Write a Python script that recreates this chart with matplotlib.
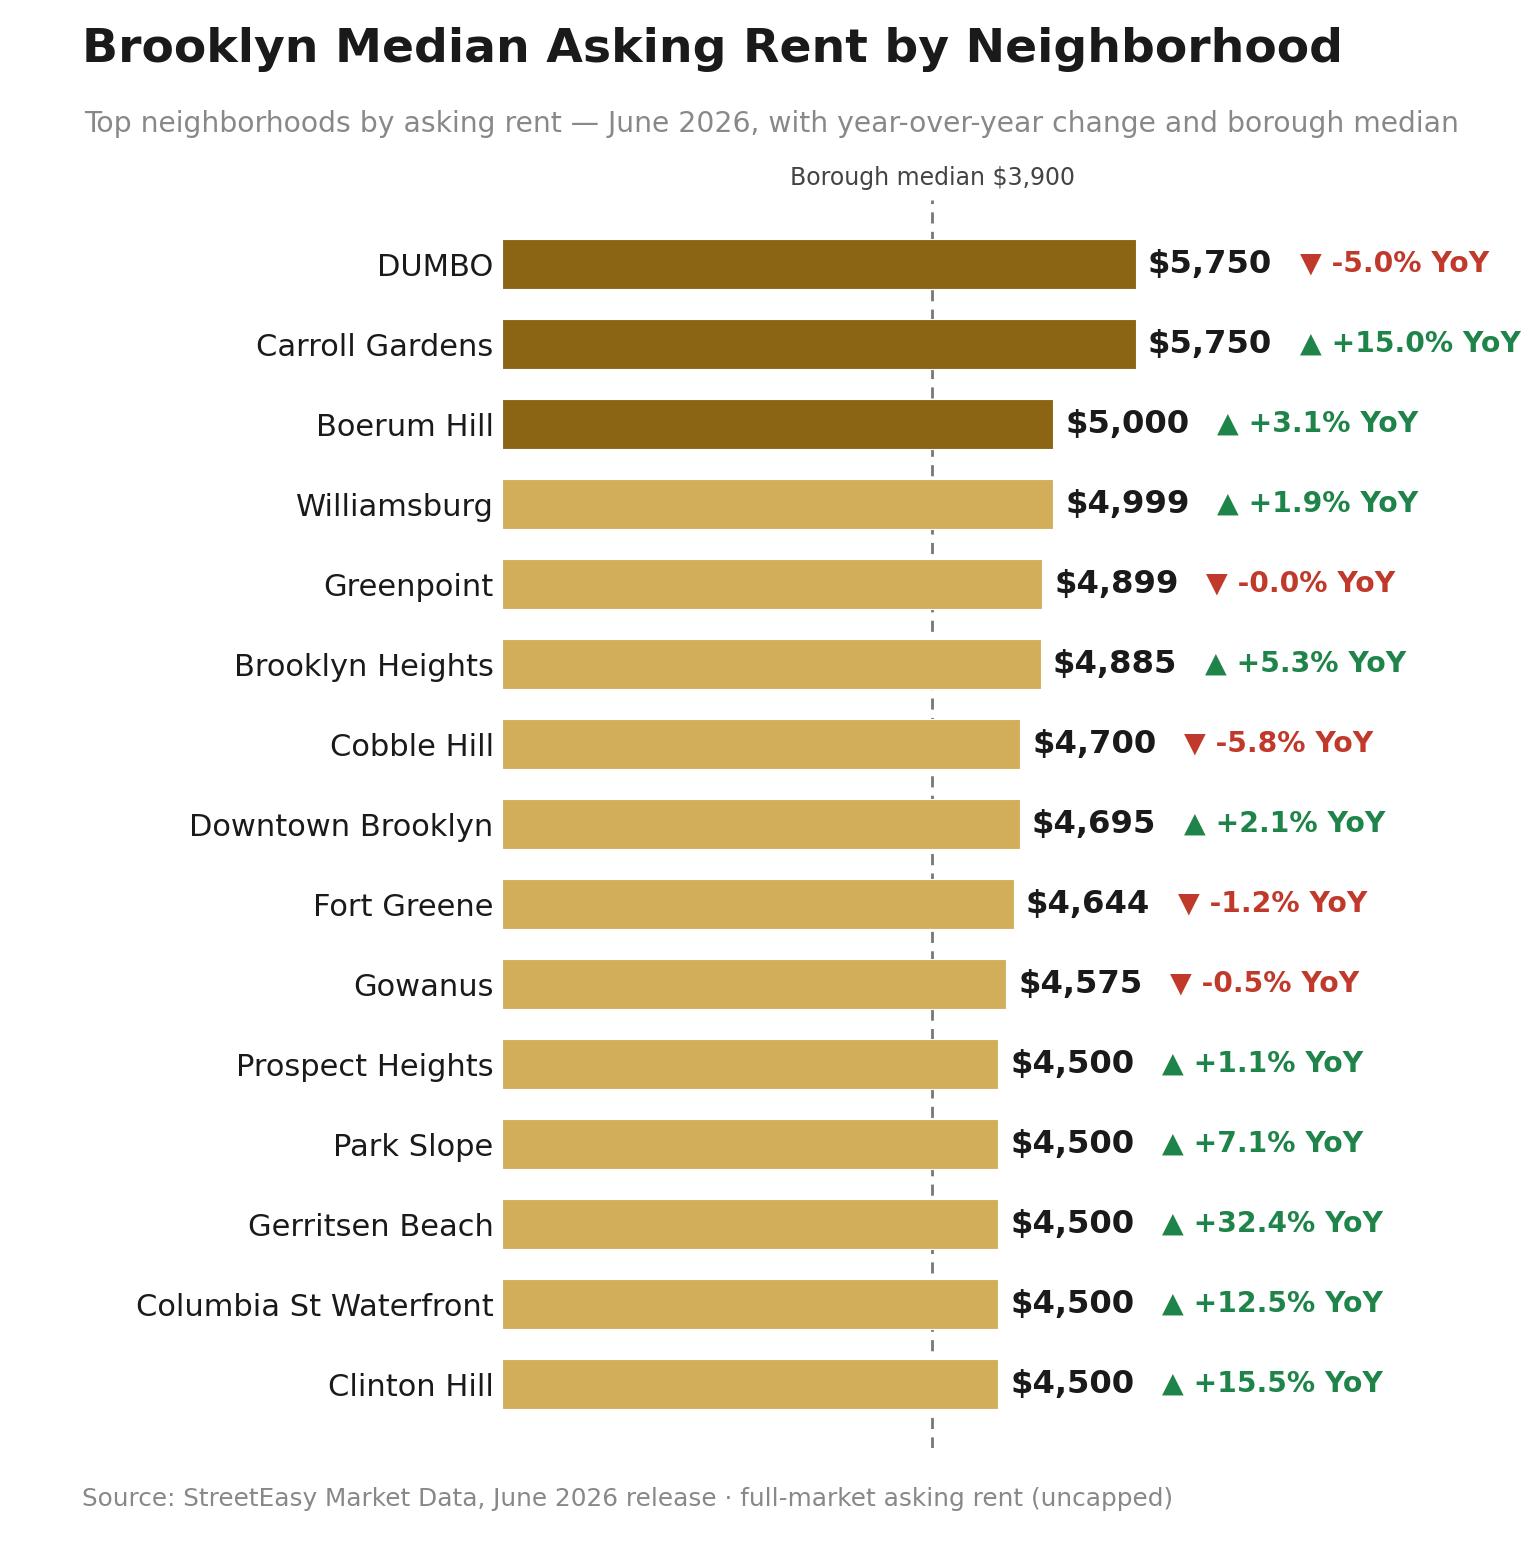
import matplotlib
matplotlib.use("Agg")
import matplotlib.pyplot as plt

# ── data ────────────────────────────────────────────────────────────────────
NEIGHBORHOODS = ["DUMBO", "Carroll Gardens", "Boerum Hill", "Williamsburg", "Greenpoint",
                 "Brooklyn Heights", "Cobble Hill", "Downtown Brooklyn", "Fort Greene",
                 "Gowanus", "Prospect Heights", "Park Slope", "Gerritsen Beach",
                 "Columbia St Waterfront", "Clinton Hill"]
RENT = [5750, 5750, 5000, 4999, 4899, 4885, 4700, 4695, 4644, 4575,
        4500, 4500, 4500, 4500, 4500]
YOY = [-5.0, 15.0, 3.1, 1.9, -0.0, 5.3, -5.8, 2.1, -1.2, -0.5,
       1.1, 7.1, 32.4, 12.5, 15.5]
# "-0.0" shows a small decline rounded to zero -> keep the sign explicitly
YOY_DOWN = [True, False, False, False, True, False, True, False, True, True,
            False, False, False, False, False]
TOP_N = 3
BOROUGH_MEDIAN = 3900

DARK, LIGHT = "#8B6513", "#D3AE5A"
RED, GREEN = "#C0392B", "#1E8449"
INK = "#1a1a1a"

fig = plt.figure(figsize=(7.67, 7.77), dpi=200)
ax = fig.add_axes([502 / 1534, 1 - 1448 / 1554, 958 / 1534, 1248 / 1554])

ys = range(len(NEIGHBORHOODS))
cols = [DARK if i < TOP_N else LIGHT for i in ys]
ax.barh(list(ys), RENT, height=0.62, color=cols, edgecolor="white", linewidth=0.4)
ax.set_ylim(len(NEIGHBORHOODS) - 0.2, -0.8)
ax.set_xlim(0, 958 / 0.11026)

ax.axvline(BOROUGH_MEDIAN, color="#777777", ls=(0, (4, 3)), lw=1.0, zorder=0.5)
ax.text(BOROUGH_MEDIAN, -0.93, f"Borough median ${BOROUGH_MEDIAN:,}", ha="center",
        va="bottom", fontsize=8.5, color="#444444", clip_on=False)

for i, (r, y, down) in enumerate(zip(RENT, YOY, YOY_DOWN)):
    ax.annotate(f"${r:,}", (r, i), xytext=(4.3, 0), textcoords="offset points",
                ha="left", va="center", fontsize=11.6, fontweight="bold", color=INK,
                annotation_clip=False)
    txt = f"▼ -{abs(y):.1f}% YoY" if down else f"▲ +{y:.1f}% YoY"
    ax.annotate(txt, (r, i), xytext=(59, 0), textcoords="offset points",
                ha="left", va="center", fontsize=10.2, fontweight="bold",
                color=RED if down else GREEN, annotation_clip=False)

ax.set_yticks(list(ys))
ax.set_yticklabels(NEIGHBORHOODS, fontsize=11, color=INK)
ax.tick_params(axis="y", length=0, pad=3)
ax.set_xticks([])
for s in ax.spines.values():
    s.set_visible(False)

fig.text(82 / 1534, 1 - 50 / 1554, "Brooklyn Median Asking Rent by Neighborhood",
         fontsize=17, fontweight="bold", color=INK, va="center", ha="left")
fig.text(84 / 1534, 1 - 124 / 1554,
         "Top neighborhoods by asking rent — June 2026, with year-over-year change and borough median",
         fontsize=10.2, color="#888888", va="center", ha="left")
fig.text(82 / 1534, 1 - 1499 / 1554,
         "Source: StreetEasy Market Data, June 2026 release · full-market asking rent (uncapped)",
         fontsize=8.9, color="#888888", va="center", ha="left")

fig.savefig("out.png", dpi=200, facecolor="white")
